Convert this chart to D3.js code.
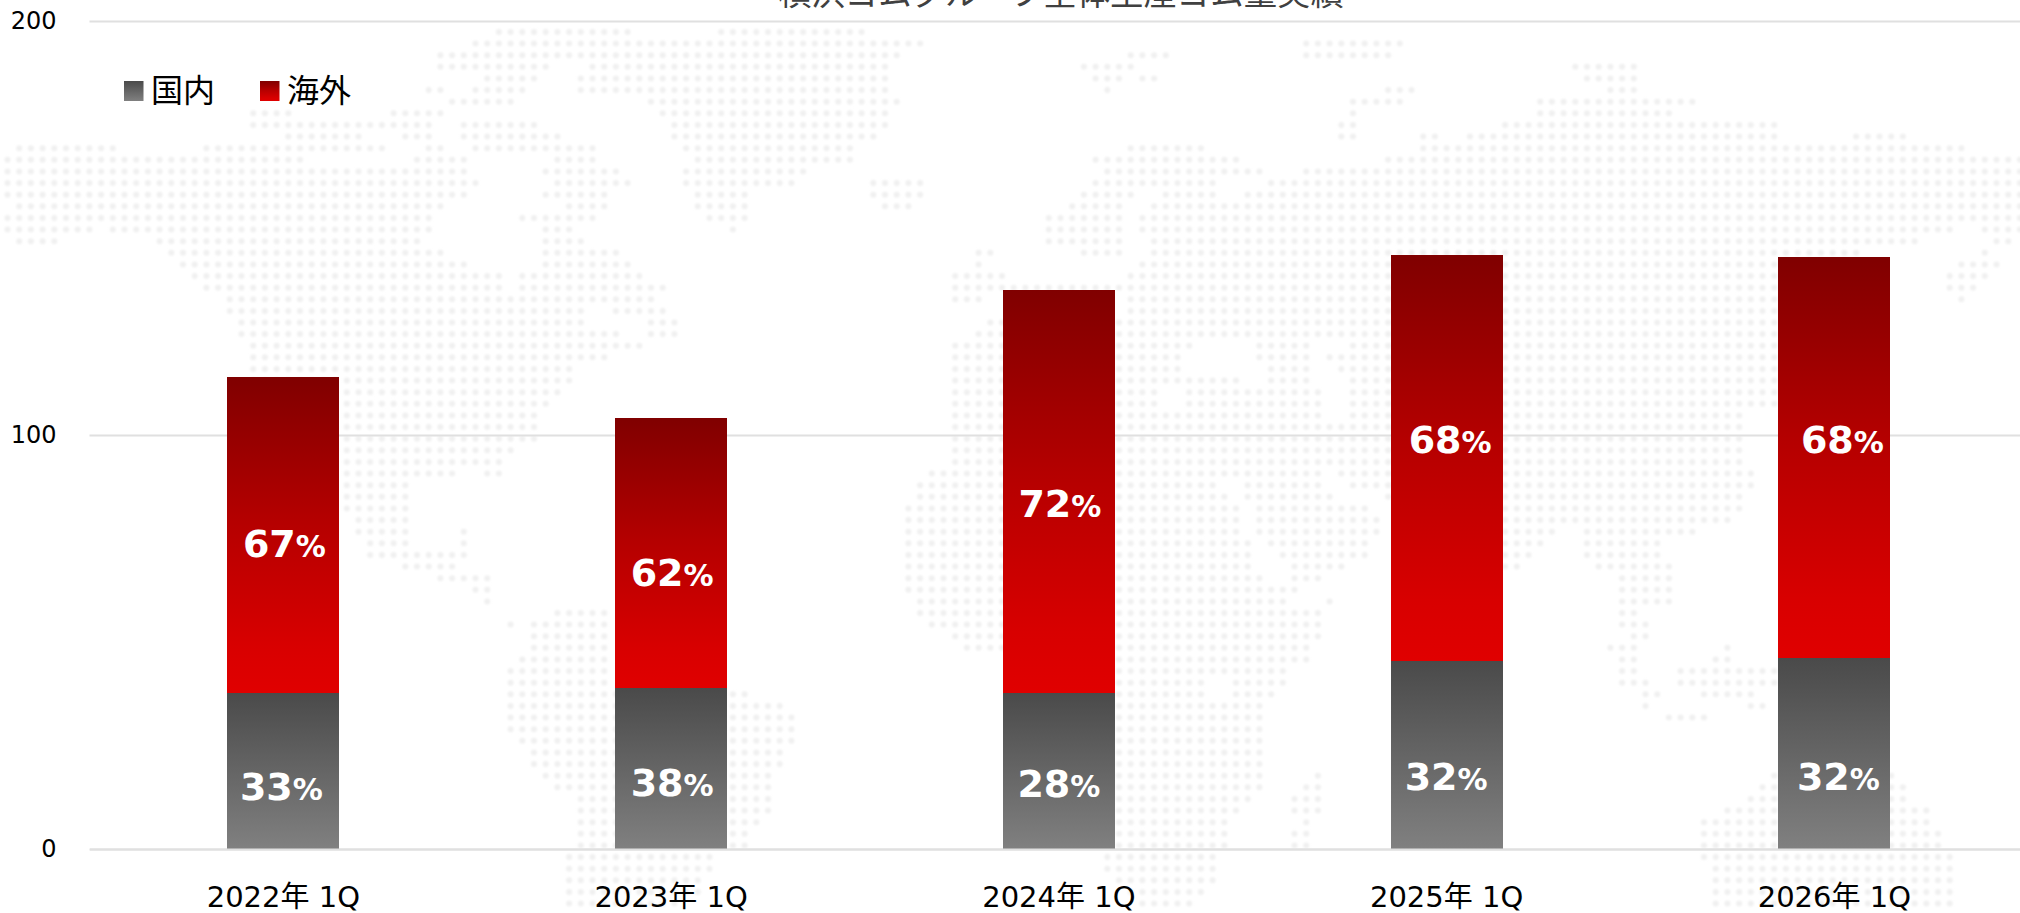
<!DOCTYPE html>
<html>
<head>
<meta charset="utf-8">
<script src="https://cdn.jsdelivr.net/npm/d3@7.9.0/dist/d3.min.js"></script>
<style>
  html, body { margin: 0; padding: 0; background: #fff; overflow: hidden; }
  svg { display: block; }
  text { font-family: "DejaVu Sans", "Noto Sans CJK JP", sans-serif; }
</style>
</head>
<body>
<div id="chart"></div>
<script>
// Chart data
const quarters = ["2022年 1Q", "2023年 1Q", "2024年 1Q", "2025年 1Q", "2026年 1Q"];
const domestic = [37.8, 38.9, 37.8, 45.5, 46.1];
const overseas = [76.2, 65.2, 97.2, 98.0, 96.9];
const domesticShare = [33, 38, 28, 32, 32];
const overseasShare = [67, 62, 72, 68, 68];
const yTicks = [0, 100, 200];
const seriesNames = ["国内", "海外"];
const title = "横浜ゴムグループ全体生産ゴム量実績";

// The share labels were placed by hand in the original, so they do not sit
// in the middle of their segments. Heights are in axis units.
const domesticLabelAt = [11.8, 12.8, 12.6, 14.3, 14.3];
const overseasLabelAt = [70.5, 63.5, 80.2, 95.7, 95.7];
const domesticLabelDx = [-2, 1, 0, -0.5, 4];
const overseasLabelDx = [1, 1, 1, 3.5, 8];

// Background world map: one entry per dot row, x runs of land on that row
const mapRows = [
  [[490,630],[720,870]],
  [[465,930],[1300,1400]],
  [[430,905],[1126,1170],[1300,1390]],
  [[432,550],[590,890],[1075,1135],[1570,1640]],
  [[485,540],[570,890],[1090,1125],[1140,1155],[1580,1635]],
  [[422,445],[465,530],[570,890],[1100,1110],[1384,1420],[1610,1640]],
  [[451,515],[650,900],[1350,1400],[1538,1693]],
  [[248,296],[393,445],[660,890],[1345,1360],[1530,1675]],
  [[245,438],[461,541],[670,885],[1335,1355],[1500,1777]],
  [[277,367],[400,432],[461,567],[670,875],[1330,1355],[1422,1442],[1461,1777],[1854,1905]],
  [[13,122],[200,387],[419,445],[464,593],[675,860],[1126,1210],[1422,1964]],
  [[0,300],[406,470],[548,600],[695,860],[1094,1242],[1377,2020]],
  [[0,470],[535,620],[680,805],[1100,1261],[1306,2020]],
  [[0,480],[554,632],[680,795],[870,930],[1090,1216],[1268,2020]],
  [[0,470],[535,612],[690,755],[870,930],[1081,1132],[1161,1222],[1242,2020]],
  [[15,445],[567,612],[695,750],[880,920],[1068,1120],[1152,2020]],
  [[0,440],[522,600],[705,745],[1045,1120],[1139,2020]],
  [[0,90],[110,430],[535,574],[730,740],[1045,1120],[1139,1950],[1975,2020]],
  [[10,60],[150,425],[535,586],[1045,1123],[1148,1925],[1990,2010]],
  [[170,445],[541,625],[973,992],[1081,1120],[1148,1860],[1975,1985]],
  [[180,470],[535,631],[975,990],[1135,1800],[1950,2000]],
  [[190,500],[522,644],[947,1003],[1123,1800],[1948,1986]],
  [[205,510],[522,663],[947,1800],[1948,1974]],
  [[225,515],[520,660],[947,990],[1120,1800],[1955,1965]],
  [[225,585],[612,663],[1120,1800]],
  [[230,590],[650,683],[990,1800]],
  [[240,620],[650,683],[970,1800]],
  [[245,640],[950,1197],[1248,1313],[1345,1800]],
  [[245,610],[950,1187],[1255,1313],[1326,1800]],
  [[245,575],[953,1187],[1268,1313],[1332,1800]],
  [[245,575],[955,1236],[1268,1313],[1345,1800]],
  [[245,560],[955,1165],[1181,1326],[1345,1800]],
  [[245,550],[955,1165],[1181,1326],[1345,1800]],
  [[245,540],[955,1326],[1345,1740]],
  [[245,540],[955,1744]],
  [[245,535],[950,1744]],
  [[245,520],[945,1744]],
  [[245,510],[945,1744]],
  [[340,455],[480,510],[928,1319],[1332,1390],[1400,1757]],
  [[340,410],[920,1222],[1239,1326],[1342,1757]],
  [[340,410],[920,1232],[1245,1335],[1380,1745]],
  [[340,410],[908,1236],[1252,1370],[1392,1745]],
  [[355,410],[900,1242],[1258,1384],[1392,1738]],
  [[352,410],[460,470],[905,1245],[1258,1384],[1392,1558],[1580,1693]],
  [[360,410],[460,470],[908,1248],[1271,1374],[1392,1545],[1587,1660]],
  [[370,470],[908,1255],[1274,1370],[1392,1538],[1587,1660]],
  [[395,460],[900,1258],[1284,1351],[1392,1525],[1593,1674]],
  [[440,490],[905,1268],[1287,1326],[1392,1505],[1622,1680]],
  [[465,490],[905,1297],[1622,1680]],
  [[480,490],[910,1293],[1319,1335],[1619,1680]],
  [[550,610],[920,1323],[1622,1640]],
  [[500,520],[530,615],[930,1325],[1622,1650]],
  [[530,615],[945,1325],[1628,1650]],
  [[530,615],[957,1315],[1603,1645],[1718,1738]],
  [[520,615],[1116,1313],[1615,1645],[1706,1735]],
  [[510,615],[1116,1290],[1622,1640],[1680,1777]],
  [[510,615],[1116,1210],[1229,1290],[1622,1655],[1680,1777]],
  [[510,747],[1116,1210],[1229,1280],[1635,1660],[1693,1760]],
  [[505,780],[1116,1268],[1645,1655],[1745,1764]],
  [[510,800],[1116,1264],[1660,1706]],
  [[510,800],[1116,1264]],
  [[520,800],[1116,1264]],
  [[525,790],[1116,1264]],
  [[530,780],[1116,1268],[1319,1326]],
  [[535,770],[1116,1268],[1313,1329],[1770,1900]],
  [[555,770],[1116,1268],[1297,1326],[1751,1906]],
  [[570,770],[1116,1258],[1293,1326],[1745,1906]],
  [[570,770],[1116,1242],[1293,1326],[1725,1930]],
  [[570,765],[1116,1232],[1297,1316],[1700,1930]],
  [[570,745],[1116,1232],[1287,1313],[1700,1938]],
  [[570,745],[1116,1232],[1293,1313],[1700,1938]],
  [[565,710],[1100,1222],[1700,1950]],
  [[565,710],[1100,1222],[1705,1950]],
  [[560,708],[1110,1213],[1708,1950]],
  [[560,700],[1120,1210],[1712,1950]],
  [[560,680],[1132,1197],[1712,1950]],
];

const width = 2020;
const height = 913;
const plotLeft = 89.5;
const plotRight = 2028.25;
const dotPitchX = 11.7;
const dotPitchY = 11.62;

const svg = d3.select("#chart").append("svg")
  .attr("width", width)
  .attr("height", height);

const defs = svg.append("defs");

function addGradient(id, stops) {
  const grad = defs.append("linearGradient")
    .attr("id", id)
    .attr("x1", 0).attr("x2", 0)
    .attr("y1", 0).attr("y2", 1);
  stops.forEach(([offset, color]) => {
    grad.append("stop").attr("offset", offset).attr("stop-color", color);
  });
}
addGradient("grad-domestic", [[0, "#4a4a4a"], [1, "#808080"]]);
addGradient("grad-overseas", [[0, "#800000"], [0.45, "#b40000"], [0.85, "#d80000"], [1, "#e00000"]]);

defs.append("filter").attr("id", "soft")
  .append("feGaussianBlur").attr("stdDeviation", 0.9);

// Background map dots
const mapDots = mapRows.flatMap((runs, row) =>
  runs.flatMap(([x0, x1]) =>
    d3.range(Math.ceil((x0 - 7.5) / dotPitchX), Math.floor((x1 - 7.5) / dotPitchX) + 1)
      .map((col) => ({ x: 7.5 + col * dotPitchX, y: 32 + row * dotPitchY }))
  )
);

svg.append("g")
  .attr("filter", "url(#soft)")
  .selectAll("circle")
  .data(mapDots)
  .join("circle")
  .attr("cx", (d) => d.x)
  .attr("cy", (d) => d.y)
  .attr("r", 3)
  .attr("fill", "#f0f0f0");

// Scales
const xScale = d3.scaleBand()
  .domain(quarters)
  .range([plotLeft, plotRight])
  .paddingInner(0.711)
  .paddingOuter(0.3555);

const yScale = d3.scaleLinear()
  .domain([0, 200])
  .range([849, 21]);

// Gridlines sit behind the bars
const yGrid = svg.append("g")
  .attr("transform", `translate(${plotLeft},0)`)
  .call(d3.axisLeft(yScale).tickValues(yTicks).tickSize(-(plotRight - plotLeft)).tickFormat(""));
yGrid.select(".domain").remove();
yGrid.selectAll("line").attr("stroke", "#e0e0e0").attr("stroke-width", 2);

// Title, cut off by the top of the picture in the original
svg.append("text")
  .attr("x", 1061)
  .attr("y", 5)
  .attr("text-anchor", "middle")
  .attr("font-size", 33.4)
  .attr("fill", "#404040")
  .style("font-family", '"Noto Sans CJK JP", sans-serif')
  .text(title);

// Stacked bars
const rows = quarters.map((q, i) => ({ quarter: q, domestic: domestic[i], overseas: overseas[i] }));
const stacked = d3.stack().keys(["domestic", "overseas"])(rows);

svg.append("g")
  .selectAll("g")
  .data(stacked)
  .join("g")
  .attr("fill", (d) => `url(#grad-${d.key})`)
  .selectAll("rect")
  .data((d) => d)
  .join("rect")
  .attr("shape-rendering", "crispEdges")
  .attr("x", (d) => xScale(d.data.quarter))
  .attr("width", xScale.bandwidth())
  .attr("y", (d) => yScale(d[1]))
  .attr("height", (d) => yScale(d[0]) - yScale(d[1]));

// Axes
const yAxis = svg.append("g")
  .attr("transform", `translate(${plotLeft},0)`)
  .call(d3.axisLeft(yScale).tickValues(yTicks).tickSize(0).tickPadding(33));
yAxis.select(".domain").remove();
yAxis.selectAll("text")
  .attr("font-size", 24)
  .attr("fill", "#000");

const xAxis = svg.append("g")
  .attr("transform", `translate(0,${yScale(0)})`)
  .call(d3.axisBottom(xScale).tickSize(0).tickSizeOuter(0).tickPadding(37));
xAxis.select(".domain").attr("stroke", "#e0e0e0").attr("stroke-width", 2);
xAxis.selectAll("text")
  .attr("font-size", 29)
  .attr("fill", "#000");

// Share labels
function drawShareLabels(shares, labelAt, labelDx) {
  const labels = svg.append("g")
    .selectAll("text")
    .data(quarters)
    .join("text")
    .attr("x", (d, i) => xScale(d) + xScale.bandwidth() / 2 + labelDx[i])
    .attr("y", (d, i) => yScale(labelAt[i]))
    .attr("text-anchor", "middle")
    .attr("font-weight", "bold")
    .attr("fill", "#fff");
  labels.append("tspan").attr("font-size", 38).text((d, i) => shares[i]);
  labels.append("tspan").attr("font-size", 30).text("%");
}
drawShareLabels(domesticShare, domesticLabelAt, domesticLabelDx);
drawShareLabels(overseasShare, overseasLabelAt, overseasLabelDx);

// Legend
const legendSwatchX = [124, 260];
const legendItems = svg.append("g")
  .selectAll("g")
  .data(seriesNames)
  .join("g")
  .attr("transform", (d, i) => `translate(${legendSwatchX[i]},81)`);
legendItems.append("rect")
  .attr("width", 19.5)
  .attr("height", 20)
  .attr("fill", (d, i) => (i === 0 ? "url(#grad-domestic)" : "url(#grad-overseas)"));
legendItems.append("text")
  .attr("x", 27)
  .attr("y", 21)
  .attr("font-size", 32)
  .attr("fill", "#000")
  .style("font-family", '"Noto Sans CJK JP", sans-serif')
  .text((d) => d);
</script>
</body>
</html>
